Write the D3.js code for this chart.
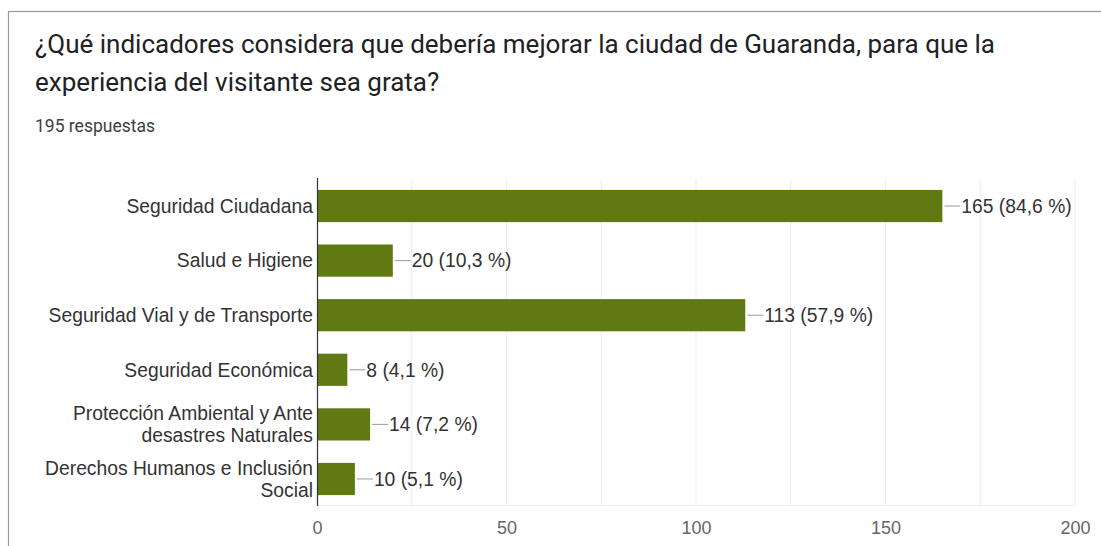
<!DOCTYPE html>
<html><head><meta charset="utf-8">
<script src="https://cdn.jsdelivr.net/npm/d3@7"></script>
<style>
html,body{margin:0;padding:0;background:#fff;}
svg{display:block;}
</style></head><body>
<svg id="c" width="1101" height="546"></svg>
<script>
const title1 = "¿Qué indicadores considera que debería mejorar la ciudad de Guaranda, para que la";
const title2 = "experiencia del visitante sea grata?";
const subtitle = "195 respuestas";
const categories = [
  ["Seguridad Ciudadana"],
  ["Salud e Higiene"],
  ["Seguridad Vial y de Transporte"],
  ["Seguridad Económica"],
  ["Protección Ambiental y Ante", "desastres Naturales"],
  ["Derechos Humanos e Inclusión", "Social"]
];
const values = [165, 20, 113, 8, 14, 10];
const percents = ["84,6", "10,3", "57,9", "4,1", "7,2", "5,1"];
const tickValues = [0, 50, 100, 150, 200];
const gridValues = [25, 50, 75, 100, 125, 150, 175, 200];

const svg = d3.select("#c");
// frame
svg.append("rect").attr("x", 8.5).attr("y", 11.5).attr("width", 1110).attr("height", 560)
  .attr("fill", "#fff").attr("stroke", "#9a9a9a").attr("stroke-width", 1.2);

const tf = "Roboto, 'Open Sans', sans-serif";
svg.append("text").attr("x", 35).attr("y", 53).attr("font-family", tf).attr("font-size", 26)
  .attr("fill", "#202124").text(title1);
svg.append("text").attr("x", 35).attr("y", 91).attr("font-family", tf).attr("font-size", 26)
  .attr("fill", "#202124").text(title2);
svg.append("text").attr("x", 35).attr("y", 132).attr("font-family", tf).attr("font-size", 17.5)
  .attr("fill", "#3c4043").text(subtitle);

const x = d3.scaleLinear().domain([0, 200]).range([317, 1075]);
const y = d3.scaleBand().domain(d3.range(categories.length)).range([179, 506]).paddingInner(0.41).paddingOuter(0.2);

const af = "'Liberation Sans', Arial, sans-serif";
// gridlines
svg.append("g").selectAll("line").data(gridValues).join("line")
  .attr("x1", d => x(d)).attr("x2", d => x(d)).attr("y1", 179).attr("y2", 505)
  .attr("stroke", "#ededed").attr("stroke-width", 1);
svg.append("line").attr("x1", 317).attr("x2", 1075).attr("y1", 505.5).attr("y2", 505.5)
  .attr("stroke", "#ededed");

// bars
svg.append("g").selectAll("rect").data(values).join("rect")
  .attr("x", x(0)).attr("y", (d, i) => y(i)).attr("width", d => x(d) - x(0)).attr("height", y.bandwidth())
  .attr("fill", "#5f7a12");

// axis line
svg.append("line").attr("x1", 317.5).attr("x2", 317.5).attr("y1", 178).attr("y2", 506)
  .attr("stroke", "#333").attr("stroke-width", 1.2);

// x tick labels
const xAxis = d3.axisBottom(x).tickValues(tickValues).tickSize(0).tickPadding(0);
const gx = svg.append("g").attr("transform", "translate(0,534)").call(xAxis);
gx.select(".domain").remove();
gx.selectAll("text").attr("font-family", af).attr("font-size", 18).attr("fill", "#666").attr("dy", 0);

// category labels
const lab = svg.append("g");
categories.forEach((lines, i) => {
  const cy = y(i) + y.bandwidth() / 2;
  const lh = 22;
  const start = cy - (lines.length - 1) * lh / 2;
  lines.forEach((t, j) => {
    lab.append("text").attr("x", 313).attr("y", start + j * lh).attr("dy", "0.35em")
      .attr("text-anchor", "end").attr("font-family", af).attr("font-size", 19.3).attr("fill", "#333").text(t);
  });
});

// value labels with leader lines
const vl = svg.append("g");
values.forEach((v, i) => {
  const cy = y(i) + y.bandwidth() / 2;
  const xe = x(v);
  vl.append("line").attr("x1", xe + 2).attr("x2", xe + 18).attr("y1", cy).attr("y2", cy)
    .attr("stroke", "#999").attr("stroke-width", 1);
  vl.append("text").attr("x", xe + 19).attr("y", cy).attr("dy", "0.35em")
    .attr("font-family", af).attr("font-size", 19.3).attr("fill", "#333")
    .text(v + " (" + percents[i] + " %)");
});
</script>
</body></html>
